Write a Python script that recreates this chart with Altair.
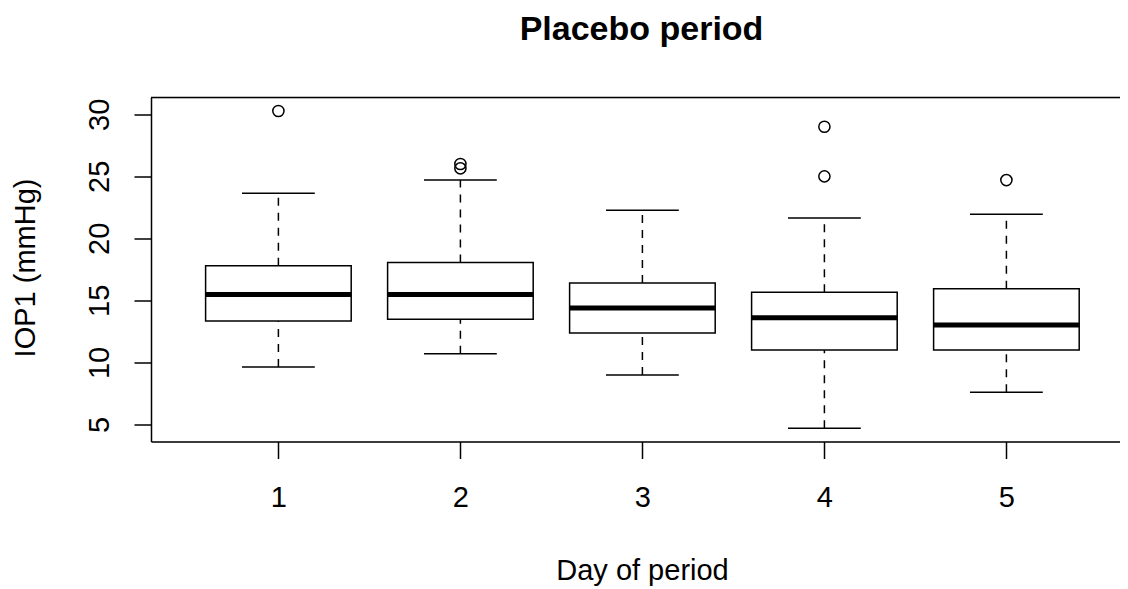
import altair as alt
import pandas as pd

days = [1, 2, 3, 4, 5]
lower_whisker = [9.62, 10.69, 8.98, 4.68, 7.60]
q1 = [13.33, 13.47, 12.36, 10.99, 10.99]
median = [15.48, 15.48, 14.38, 13.60, 13.01]
q3 = [17.79, 18.06, 16.40, 15.65, 15.94]
upper_whisker = [23.63, 24.70, 22.26, 21.64, 21.94]

outlier_day = [1, 2, 2, 4, 4, 5]
outlier_value = [30.27, 26.00, 25.65, 29.00, 25.00, 24.70]

y_ticks = [5, 10, 15, 20, 25, 30]

W = 969
H = 344
PX_PER_DAY = 182.0
FONT = "Liberation Sans"

stats = pd.DataFrame({
    "day": days, "lo": lower_whisker, "q1": q1, "med": median,
    "q3": q3, "hi": upper_whisker,
})
outl = pd.DataFrame({"day": outlier_day, "val": outlier_value})

xscale = alt.Scale(domain=[0.3, 0.3 + W / PX_PER_DAY], nice=False, zero=False)
yscale = alt.Scale(domain=[3.62, 31.36], nice=False, zero=False)

base = alt.Chart(stats).transform_calculate(
    xl="datum.day - 0.4", xr="datum.day + 0.4",
    cl="datum.day - 0.2", cr="datum.day + 0.2",
)

xaxis = alt.Axis(
    values=days, format="d", title="Day of period",
    labelFont=FONT, labelFontSize=29, labelColor="black",
    labelBaseline="alphabetic", labelPadding=48,
    tickSize=17, tickColor="black", tickWidth=1.5,
    domainColor="black", domainWidth=1.5, grid=False,
    titleFont=FONT, titleFontSize=29, titleFontWeight="normal", titleColor="black",
    titleBaseline="alphabetic", titleX=491, titleY=138, titleAnchor="middle",
)
yaxis = alt.Axis(
    values=y_ticks, title="IOP1 (mmHg)",
    labelFont=FONT, labelFontSize=29, labelColor="black",
    labelAngle=270, labelAlign="center", labelBaseline="alphabetic", labelPadding=26,
    tickSize=17, tickColor="black", tickWidth=1.5,
    domainColor="black", domainWidth=1.5, grid=False,
    titleFont=FONT, titleFontSize=29, titleFontWeight="normal", titleColor="black",
    titleAngle=270, titleBaseline="alphabetic", titleX=-117, titleY=170,
    titleAlign="center",
)

whisk_up = base.mark_rule(color="black", strokeWidth=1.5, strokeDash=[8, 7]).encode(
    x=alt.X("day:Q", scale=xscale, axis=xaxis),
    y=alt.Y("q3:Q", scale=yscale, axis=yaxis),
    y2="hi:Q",
)
whisk_lo = base.mark_rule(color="black", strokeWidth=1.5, strokeDash=[8, 7]).encode(
    x=alt.X("day:Q", scale=xscale), y=alt.Y("lo:Q", scale=yscale), y2="q1:Q",
)
boxes = base.mark_rect(fill="white", stroke="black", strokeWidth=1.5).encode(
    x=alt.X("xl:Q", scale=xscale), x2="xr:Q",
    y=alt.Y("q1:Q", scale=yscale), y2="q3:Q",
)
med = base.mark_rule(color="black", strokeWidth=5).encode(
    x=alt.X("xl:Q", scale=xscale), x2="xr:Q", y=alt.Y("med:Q", scale=yscale),
)
cap_hi = base.mark_rule(color="black", strokeWidth=1.5).encode(
    x=alt.X("cl:Q", scale=xscale), x2="cr:Q", y=alt.Y("hi:Q", scale=yscale),
)
cap_lo = base.mark_rule(color="black", strokeWidth=1.5).encode(
    x=alt.X("cl:Q", scale=xscale), x2="cr:Q", y=alt.Y("lo:Q", scale=yscale),
)
pts = alt.Chart(outl).mark_point(
    shape="circle", size=125, color="black", strokeWidth=1.5, filled=False, opacity=1
).encode(
    x=alt.X("day:Q", scale=xscale), y=alt.Y("val:Q", scale=yscale),
)
top_line = alt.Chart(stats).mark_rule(color="black", strokeWidth=1.5).encode(
    y=alt.value(0), x=alt.value(0), x2=alt.value(W)
).transform_filter("datum.day == 1")

chart = alt.layer(
    whisk_up, whisk_lo, boxes, med, cap_hi, cap_lo, pts, top_line
).properties(
    width=W, height=H,
    autosize=alt.AutoSizeParams(type="none"),
    padding={"left": 143, "top": 89.5, "right": 0, "bottom": 145},
    title=alt.TitleParams(
        "Placebo period", font=FONT, fontSize=34, fontWeight="bold", color="black",
        anchor="middle", frame="group", baseline="alphabetic", offset=23, dx=6,
    ),
).configure_view(stroke=None).configure(background="white")

chart.save("out.html", embed_options={"renderer": "svg", "actions": False})
